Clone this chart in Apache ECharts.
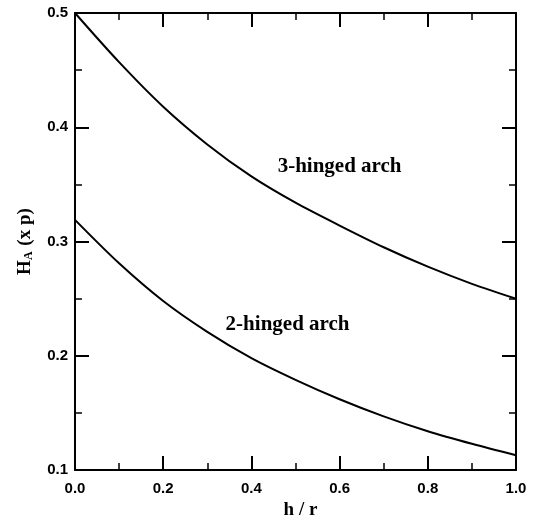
<!DOCTYPE html>
<html>
<head>
<meta charset="utf-8">
<script src="https://cdn.jsdelivr.net/npm/echarts@6/dist/echarts.min.js"></script>
<style>
  html, body { margin: 0; padding: 0; background: #fff; }
  #chart { width: 541px; height: 525px; }
</style>
</head>
<body>
<div id="chart"></div>
<script>
// Horizontal thrust H_A (in units of p) against rise ratio h / r
const hr = [0.0, 0.1, 0.2, 0.3, 0.4, 0.5, 0.6, 0.7, 0.8, 0.9, 1.0];
const threeHinged = [0.500, 0.457, 0.418, 0.385, 0.357, 0.334, 0.314, 0.295, 0.278, 0.263, 0.250];
const twoHinged   = [0.319, 0.281, 0.248, 0.221, 0.198, 0.179, 0.162, 0.147, 0.134, 0.123, 0.113];
const curveNames = ['3-hinged arch', '2-hinged arch'];
// where each curve's name is written, in data coordinates
const namePos = [[0.60, 0.366], [0.482, 0.227]];

const pairs = (ys) => hr.map((x, i) => [x, ys[i]]);

const tickFont = {
  color: '#000',
  fontFamily: 'Liberation Sans, Arial, sans-serif',
  fontWeight: 'bold',
  fontSize: 15
};
const serif = 'Liberation Serif, Times New Roman, serif';
const axisLine = { show: true, onZero: false, lineStyle: { color: '#000', width: 2 } };
const tick = { show: true, inside: true, length: 14, lineStyle: { color: '#000', width: 2 } };
const minor = { show: true, splitNumber: 2, length: 7, lineStyle: { color: '#000', width: 1.5 } };

const chart = echarts.init(document.getElementById('chart'), null, { renderer: 'canvas' });

const nameMark = (idx) => ({
  symbolSize: 0,
  silent: true,
  data: [{
    coord: namePos[idx],
    label: {
      show: true,
      position: 'inside',
      formatter: curveNames[idx],
      color: '#000',
      fontFamily: serif,
      fontWeight: 'bold',
      fontSize: 21
    }
  }]
});

chart.setOption({
  animation: false,
  backgroundColor: '#fff',
  grid: { left: 75, right: 25, top: 13, bottom: 51, containLabel: false },
  xAxis: [
    {
      type: 'value', min: 0, max: 1, interval: 0.2, position: 'bottom',
      name: 'h / r', nameLocation: 'middle', nameGap: 30,
      nameTextStyle: { color: '#000', fontFamily: serif, fontWeight: 'bold', fontSize: 19, padding: [0, 0, 0, 10] },
      axisLine, axisTick: tick, minorTick: minor,
      splitLine: { show: false },
      axisLabel: Object.assign({ margin: 11, formatter: v => v.toFixed(1) }, tickFont)
    },
    {
      type: 'value', min: 0, max: 1, interval: 0.2, position: 'top',
      axisLine, axisTick: tick, minorTick: minor,
      splitLine: { show: false }, axisLabel: { show: false }
    }
  ],
  yAxis: [
    {
      type: 'value', min: 0.1, max: 0.5, interval: 0.1, position: 'left',
      name: '{h|H}{s|A}{h| (x p)}', nameLocation: 'middle', nameGap: 40,
      nameRotate: 90,
      nameTextStyle: {
        color: '#000',
        rich: {
          h: { fontFamily: serif, fontWeight: 'bold', fontSize: 19, color: '#000' },
          s: { fontFamily: serif, fontWeight: 'bold', fontSize: 12, color: '#000', verticalAlign: 'bottom', padding: [8, 1, 0, 0] }
        }
      },
      axisLine, axisTick: tick, minorTick: minor,
      splitLine: { show: false },
      axisLabel: Object.assign({ margin: 7, formatter: v => v.toFixed(1) }, tickFont)
    },
    {
      type: 'value', min: 0.1, max: 0.5, interval: 0.1, position: 'right',
      axisLine, axisTick: tick, minorTick: minor,
      splitLine: { show: false }, axisLabel: { show: false }
    }
  ],
  series: [
    {
      name: curveNames[0], type: 'line', smooth: 0.3, showSymbol: false,
      data: pairs(threeHinged),
      lineStyle: { color: '#000', width: 2 },
      markPoint: nameMark(0)
    },
    {
      name: curveNames[1], type: 'line', smooth: 0.3, showSymbol: false,
      data: pairs(twoHinged),
      lineStyle: { color: '#000', width: 2 },
      markPoint: nameMark(1)
    }
  ]
});
</script>
</body>
</html>
